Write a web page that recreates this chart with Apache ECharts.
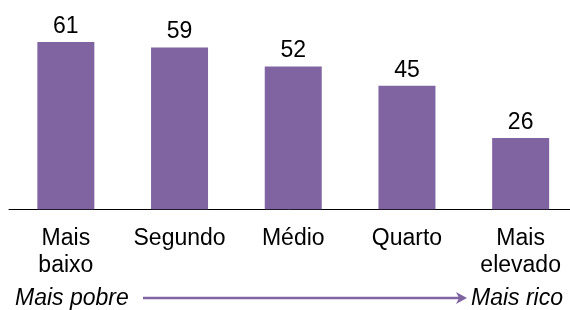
<!DOCTYPE html>
<html>
  <head>
    <meta charset="utf-8">
    <title></title>
    <style media="screen">
    html, body {margin:0; padding:0; background:#fff}
    .box {width:570px; height:310px}
    </style>
    <script src="https://cdn.jsdelivr.net/npm/echarts@6/dist/echarts.min.js" charset="utf-8"></script>
    <script>
    const categories=['Mais\nbaixo', 'Segundo', 'Médio', 'Quarto', 'Mais\nelevado'];
    const values=[61, 59, 52, 45, 26];
    const leftNote='Mais pobre';
    const rightNote='Mais rico';

    window.onload=function (){
      let chart=echarts.init(document.querySelector('.box'));
      const purple='#8064A2';
      const font='"Liberation Sans", Arial, sans-serif';

      let option={
        animation: false,
        grid: {left: 9, top: 17.2, width: 568.5, bottom: 100.7, containLabel: false, outerBoundsMode: 'none'},
        xAxis: {
          type: 'category',
          data: categories,
          axisLine: {lineStyle: {color: '#000', width: 1}},
          axisTick: {show: false},
          axisLabel: {
            color: '#000', fontFamily: font, fontSize: 23,
            lineHeight: 27, margin: 16, interval: 0
          }
        },
        yAxis: {
          type: 'value', min: 0, max: 70,
          show: false,
          splitLine: {show: false}
        },
        series: [
          {
            type: 'bar',
            data: values,
            barWidth: 57,
            itemStyle: {color: purple},
            label: {
              show: true, position: 'top', distance: 4,
              color: '#000', fontFamily: font, fontSize: 23
            }
          }
        ],
        graphic: [
          {
            type: 'text', left: 15, top: 287,
            style: {text: leftNote, font: 'italic 23px ' + font, fill: '#000'}
          },
          {
            type: 'line',
            shape: {x1: 143, y1: 298, x2: 462, y2: 298},
            style: {stroke: purple, lineWidth: 2.5}
          },
          {
            type: 'polygon',
            shape: {points: [[456, 292], [467, 298], [456, 304], [459, 298]]},
            style: {fill: purple}
          },
          {
            type: 'text', left: 471, top: 287,
            style: {text: rightNote, font: 'italic 23px ' + font, fill: '#000'}
          }
        ]
      };

      chart.setOption(option);
    };
    </script>
  </head>
  <body>
    <div class="box"></div>
  </body>
</html>
